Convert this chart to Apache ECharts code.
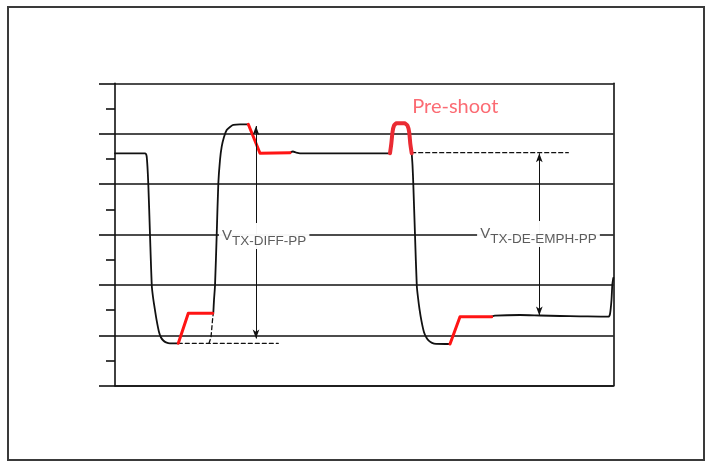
<!DOCTYPE html>
<html>
<head>
<meta charset="utf-8">
<script src="https://cdn.jsdelivr.net/npm/echarts@6/dist/echarts.min.js"></script>
<style>
html,body{margin:0;padding:0;background:#fff;}
#chart{position:absolute;left:0;top:0;width:707px;height:462px;}
#frame{position:absolute;left:7px;top:6px;width:698px;height:455px;box-sizing:border-box;border:2px solid #3a3a3a;pointer-events:none;}
</style>
</head>
<body>
<div id="chart"></div>
<div id="frame"></div>
<script>
// ---- axis ----
const yTicks = [0, 1, 2, 3, 4, 5, 6];

// ---- black waveform segments [time, level] ----
const blackFall1 = [[0,4.611],[30,4.611],[31.7,4.544],[33.3,4.002],[35,2.990],[36.8,1.984],[38,1.760],[39.5,1.560],[41.7,1.290],[44,1.065],[46,0.956],[48.3,0.897],[51,0.861],[55,0.841],[63.3,0.841]];
const blackRise1 = [[98.3,1.437],[99,1.700],[100,1.984],[101.7,2.990],[103.3,4.002],[105,4.478],[106.7,4.742],[109,4.935],[111.7,5.073],[115,5.133],[118.3,5.173],[125,5.187],[133.3,5.187]];
const blackHigh  = [[175,4.623],[178,4.647],[181,4.627],[185,4.611],[245,4.611],[275,4.611]];
const blackFall2 = [[296.7,4.611],[297.5,4.379],[298.3,4.002],[300,2.990],[301.8,1.984],[303,1.750],[304.5,1.520],[306.5,1.280],[309,1.060],[311.5,0.950],[314,0.890],[317,0.850],[321,0.830],[335,0.827]];
const blackLow   = [[376.7,1.369],[380,1.389],[405,1.403],[425,1.393],[445,1.383],[465,1.377],[493.3,1.369],[495,1.423],[496.5,1.700],[497.3,1.998],[498.3,2.137]];

// ---- red (de-emphasis / equalized) segments ----
const redLowRamp  = [[63.3,0.841],[73.3,1.437],[97.7,1.437]];
const redHighDrop = [[133.3,5.187],[145,4.611],[175,4.623]];
const redLowRamp2 = [[335,0.827],[345,1.369],[376.7,1.369]];
const preShoot    = [[275,4.611],[276.3,4.800],[277.5,5.030],[279,5.160],[281.5,5.205],[289.5,5.205],[292.5,5.160],[294.2,5.030],[295.3,4.800],[296.7,4.611]];

// ---- dashed reference lines ----
const dashLow   = [[63.3,0.841],[163.3,0.841]];
const dashRise  = [[94,0.841],[96,0.960],[97.5,1.300],[98.3,1.437]];
const dashHigh  = [[296.7,4.623],[453.3,4.623]];

// ---- measurement arrows [x, yFrom, yTo] ----
const arrowDiff = [141, 5.153, 0.936];
const arrowEmph = [424.3, 4.611, 1.393];

// ---- annotation anchors [x, y] and texts ----
const diffAnchor = [103.5, 2.99];
const emphAnchor = [361.7, 2.99];
const preAnchor  = [296.7, 5.53];
const diffSub = 'TX-DIFF-PP';
const emphSub = 'TX-DE-EMPH-PP';
const preText = 'Pre-shoot';

function seg(data, color, width, type, z, smooth) {
  return {type:'line', data:data, showSymbol:false, symbol:'none', silent:true, z:z||3,
    smooth:smooth||false,
    lineStyle:{color:color, width:width, type:type||'solid', cap:'round', join:'round'}};
}

const series = [];
[dashLow, dashRise, dashHigh].forEach(d => series.push(seg(d, '#111', 1.3, [4,3], 2)));
[blackFall1, blackRise1, blackHigh, blackFall2, blackLow].forEach(d => series.push(seg(d, '#111', 1.8, 'solid', 3, 0.25)));
[redLowRamp, redHighDrop, redLowRamp2].forEach(d => series.push(seg(d, '#ff1414', 3, 'solid', 4)));
series.push(seg(preShoot, '#ea2b33', 4, 'solid', 4, 0.2));

// arrows
series.push({type:'line', data:[], silent:true, z:2,
  markLine:{silent:true, symbol:['arrow','arrow'], symbolSize:[5,9], label:{show:false},
    lineStyle:{color:'#111', width:1, type:'solid'},
    data:[
      [{coord:[arrowDiff[0], arrowDiff[1]]},{coord:[arrowDiff[0], arrowDiff[2]]}],
      [{coord:[arrowEmph[0], arrowEmph[1]]},{coord:[arrowEmph[0], arrowEmph[2]]}]
    ]}});

const vRich = {
  v:{fontSize:15, lineHeight:26, height:26, verticalAlign:'top', padding:[0,0,0,3], color:'#333', fontFamily:'Liberation Sans', backgroundColor:'#fff'},
  s:{fontSize:13.5, lineHeight:15, height:15, padding:[11,3,0,0], color:'#333', fontFamily:'Liberation Sans', backgroundColor:'#fff'}
};
function vLabel(anchor, sub, dy) {
  return {type:'scatter', data:[anchor], symbolSize:1, itemStyle:{color:'rgba(0,0,0,0)'}, silent:true, z:20, zlevel:1,
    label:{show:true, position:'right', distance:0, offset:[0,dy],
      formatter:'{v|V}{s|' + sub + '}', backgroundColor:'#ffffff', rich:vRich}};
}
series.push(vLabel(diffAnchor, diffSub, 1));
series.push(vLabel(emphAnchor, emphSub, -1));
series.push({type:'scatter', data:[preAnchor], symbolSize:1, itemStyle:{color:'rgba(0,0,0,0)'}, silent:true, z:20,
  label:{show:true, position:'right', distance:0, formatter:preText,
    color:'#fa4650', fontSize:20, fontFamily:'Lato'}});

const chart = echarts.init(document.getElementById('chart'), null, {renderer:'canvas'});
chart.setOption({
  animation:false,
  backgroundColor:'#fff',
  grid:{left:115, right:93.5, top:83.3, bottom:76.3, containLabel:false},
  xAxis:{type:'value', min:0, max:498.5, axisLine:{show:true, lineStyle:{color:'#111', width:1.6}},
    axisTick:{show:false}, axisLabel:{show:false}, splitLine:{show:false}},
  yAxis:[
    {type:'value', min:yTicks[0], max:yTicks[yTicks.length-1], interval:1, position:'left',
     axisLine:{show:true, lineStyle:{color:'#111', width:1.6}},
     axisTick:{show:true, length:16, lineStyle:{color:'#111', width:1.6}},
     minorTick:{show:true, splitNumber:2, length:9, lineStyle:{color:'#111', width:1.6}},
     axisLabel:{show:false},
     splitLine:{show:true, lineStyle:{color:'#111', width:1.6}}},
    {type:'value', min:yTicks[0], max:yTicks[yTicks.length-1], position:'right',
     axisLine:{show:true, lineStyle:{color:'#111', width:1.6}},
     axisTick:{show:false}, axisLabel:{show:false}, splitLine:{show:false}}
  ],
  series:series
});
</script>
</body>
</html>
